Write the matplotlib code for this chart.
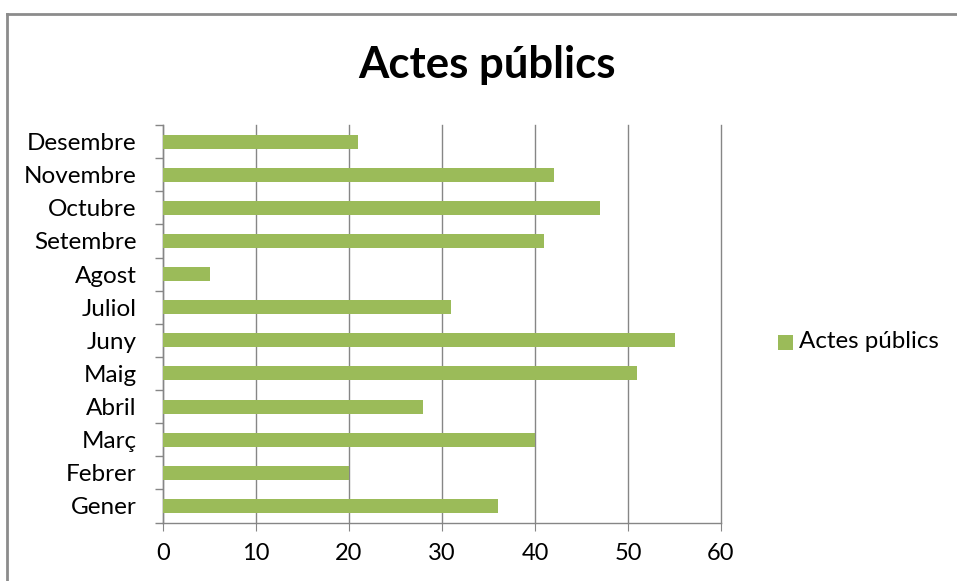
import matplotlib
matplotlib.use("Agg")
import matplotlib.pyplot as plt
from matplotlib.lines import Line2D
from matplotlib.patches import Rectangle

months = ["Gener", "Febrer", "Març", "Abril", "Maig", "Juny", "Juliol",
          "Agost", "Setembre", "Octubre", "Novembre", "Desembre"]
values = [36, 20, 40, 28, 51, 55, 31, 5, 41, 47, 42, 21]
series_name = "Actes públics"
title = "Actes públics"
xticks = [0, 10, 20, 30, 40, 50, 60]

plt.rcParams['font.family'] = ['Lato', 'DejaVu Sans']

W, H = 957, 581
fig = plt.figure(figsize=(W / 100, H / 100), dpi=100)
fig.patch.set_facecolor("white")

ax = fig.add_axes([163 / W, 1 - 522.5 / H, (721 - 163) / W, (522.5 - 125) / H])
green = "#9BBB59"
grid = "#868686"
ypos = list(range(len(months)))
ax.barh(ypos, values, height=0.42, color=green, zorder=3)
ax.set_xlim(0, 60)
ax.set_ylim(-0.5, len(months) - 0.5)
ax.set_xticks(xticks)
ax.set_xticklabels([str(t) for t in xticks], fontsize=17, color="#000000")
ax.set_yticks(ypos)
ax.set_yticklabels(months, fontsize=17.5, color="#000000")
ax.tick_params(axis="y", length=0, pad=19)
ax.tick_params(axis="x", length=6, color=grid, pad=9)
ax.set_yticks([i - 0.5 for i in range(len(months) + 1)], minor=True)
ax.tick_params(axis="y", which="minor", length=6, color=grid, width=1)
ax.xaxis.grid(True, color=grid, linewidth=1, zorder=0)
for gl in ax.get_xgridlines():
    gl.set_clip_on(False)
for s in ["top", "right"]:
    ax.spines[s].set_visible(False)
for s in ["left", "bottom"]:
    ax.spines[s].set_color(grid)
    ax.spines[s].set_linewidth(1)

fig.text(487 / W, 1 - 65 / H, title, fontsize=31.5, fontweight="bold",
         ha="center", va="center")

fig.patches.append(Rectangle((778 / W, 1 - 350 / H), 15 / W, 15 / H,
                             transform=fig.transFigure, facecolor=green,
                             edgecolor="none", figure=fig))
fig.text(799 / W, 1 - 342 / H, series_name, fontsize=17.4, ha="left", va="center")

fig.add_artist(Line2D([6.5 / W, 1.0], [1 - 13.5 / H, 1 - 13.5 / H],
                      transform=fig.transFigure, color="#8c8c8c", linewidth=2))
fig.add_artist(Line2D([6.5 / W, 6.5 / W], [1 - 13.5 / H, 0],
                      transform=fig.transFigure, color="#8c8c8c", linewidth=2))

fig.savefig("out.png", dpi=100, facecolor="white")
